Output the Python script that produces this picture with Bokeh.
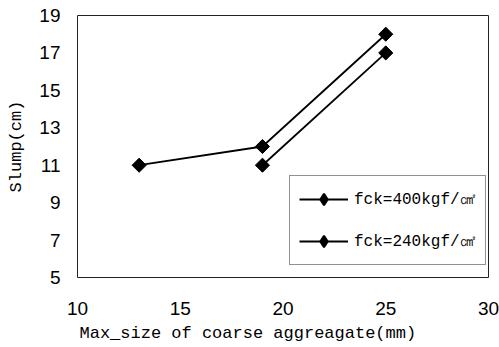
import math
from bokeh.plotting import figure
from bokeh.models import Range1d, Legend, LegendItem, Title, FixedTicker
from bokeh.embed import file_html
from bokeh.resources import INLINE

# data
x400 = [13, 19, 25]
y400 = [11, 12, 18]
x240 = [19, 25]
y240 = [11, 17]
x_ticks = [10, 15, 20, 25, 30]
y_ticks = [5, 7, 9, 11, 13, 15, 17, 19]
series_labels = ["fck=400kgf/㎠", "fck=240kgf/㎠"]
x_title = "Max_size of coarse aggreagate(mm)"
y_title = "Slump(cm)"

p = figure(width=499, height=347, output_backend="svg", toolbar_location=None,
           x_range=Range1d(10, 30), y_range=Range1d(5, 19),
           min_border_left=77, min_border_right=11, min_border_top=15,
           min_border_bottom=70)
p.grid.visible = False
p.outline_line_color = "#222222"
p.outline_line_width = 1
p.background_fill_color = "white"
p.border_fill_color = "white"

for ax in (p.xaxis[0], p.yaxis[0]):
    ax.axis_line_color = None
    ax.major_tick_line_color = None
    ax.minor_tick_line_color = None
    ax.major_label_text_font = "Liberation Sans"
    ax.major_label_text_font_size = "19px"
    ax.major_label_text_color = "black"

p.xaxis.ticker = FixedTicker(ticks=x_ticks)
p.yaxis.ticker = FixedTicker(ticks=y_ticks)
p.xaxis.major_label_standoff = 18
p.yaxis.major_label_standoff = 11

p.yaxis.axis_label = y_title
p.yaxis.axis_label_text_font = "Liberation Mono"
p.yaxis.axis_label_text_font_size = "17px"
p.yaxis.axis_label_text_font_style = "normal"
p.yaxis.axis_label_text_color = "black"
p.yaxis.axis_label_standoff = 10

t = Title(text=x_title, align="left", offset=2,
          text_font="Liberation Mono", text_font_size="17px",
          text_font_style="normal", text_color="black", standoff=9)
p.add_layout(t, "below")

# diamond glyphs used for the legend (drawn under the data markers)
d1 = p.scatter(x400, y400, marker="diamond", size=11, fill_color="black",
               line_color="black", line_width=2)
d2 = p.scatter(x240, y240, marker="diamond", size=11, fill_color="black",
               line_color="black", line_width=2)

l1 = p.line(x400, y400, line_color="black", line_width=1.8)
m1 = p.scatter(x400, y400, marker="square", size=10, angle=math.pi / 4,
               fill_color="black", line_color="black")
l2 = p.line(x240, y240, line_color="black", line_width=1.8)
m2 = p.scatter(x240, y240, marker="square", size=10, angle=math.pi / 4,
               fill_color="black", line_color="black")

legend = Legend(items=[LegendItem(label=series_labels[0], renderers=[l1, d1]),
                       LegendItem(label=series_labels[1], renderers=[l2, d2])],
                location=(212, 12), margin=0, padding=9, spacing=14,
                glyph_width=49, glyph_height=28, label_height=28,
                label_standoff=6, label_text_font="Liberation Mono",
                label_text_font_size="16px", label_text_color="black",
                border_line_color="#222222", border_line_width=1,
                background_fill_color="white", background_fill_alpha=1)
p.add_layout(legend)

open("out.html", "w").write(file_html(p, INLINE))
